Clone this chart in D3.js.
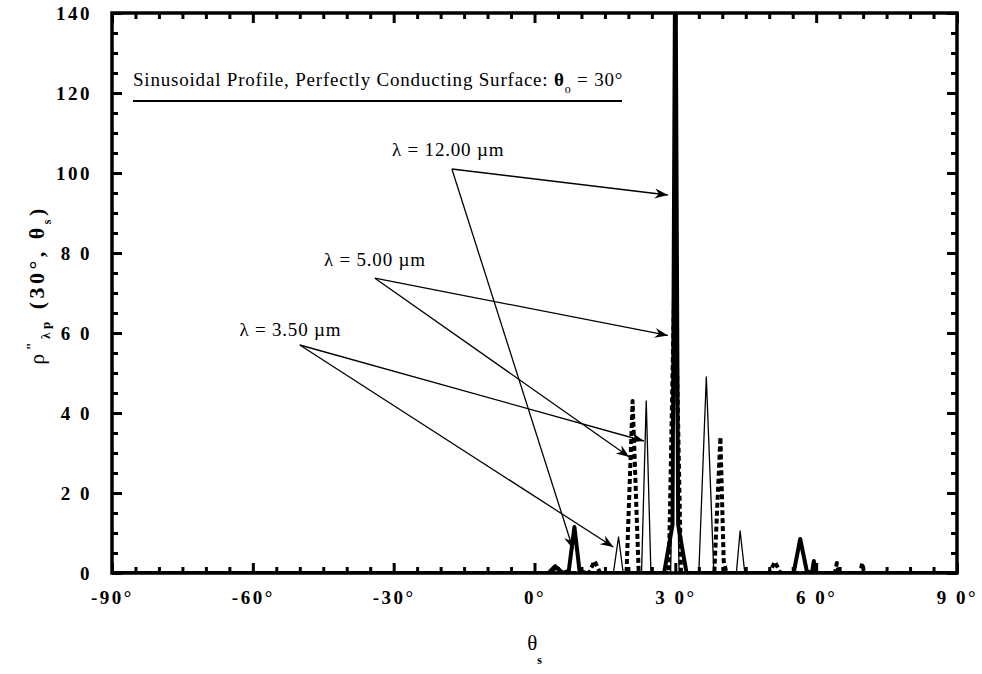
<!DOCTYPE html>
<meta charset="utf-8">
<style>
  body { margin: 0; background: #fff; }
  text { fill: #000; font-family: "Liberation Serif", "Times New Roman", serif; }
  .tick text { font-size: 19px; font-weight: bold; letter-spacing: 2.5px; }
  .axis path.domain { display: none; }
  .axis line { stroke: #000; stroke-width: 3; }
  path.series { fill: none; stroke: #000; stroke-linejoin: round; }
  .arrow { stroke: #000; stroke-width: 1.3; fill: none; }
  .callout { font-size: 19px; letter-spacing: 0.8px; }
</style>
<body>
<script src="https://cdnjs.cloudflare.com/ajax/libs/d3/7.8.5/d3.min.js"></script>
<script>

// scattering angle (deg) and bidirectional reflectance, one pair of arrays per wavelength
var theta12 = [-90, 3, 4.4, 6, 7.3, 8.5, 9.6, 11, 27.6, 29.4, 30, 30.6, 32.4, 55.2, 56.6, 58, 59.1, 59.5, 60, 90];
var rho12   = [0, 0, 1.7, 0, 0.5, 11.5, 0.5, 0, 0, 12, 165, 12, 0, 0, 8.5, 0.5, 0, 3, 0, 0];

var theta5 = [-90, 3.4, 4.6, 5.8, 11.6, 12.8, 14, 19.6, 20.9, 22.2, 28.6, 29.9, 31.2, 38.3, 39.6, 40.3, 40.9, 50, 51.2, 52.4, 64, 64.4, 64.8, 69.4, 69.8, 70.2, 90];
var rho5   = [0, 0, 1.5, 0, 0, 3, 0, 0, 43, 0, 0, 80, 0, 0, 34, 3, 0, 0, 2.8, 0, 0, 2.5, 0, 0, 2.5, 0, 0];

var theta35 = [-90, 16.8, 17.9, 18.9, 22.8, 23.8, 24.8, 29, 29.9, 30.8, 35, 36.6, 38.2, 43, 43.8, 44.8, 90];
var rho35   = [0, 0, 9, 0, 0, 43, 0, 0, 60, 0, 0, 49, 0, 0, 10.5, 0, 0];

var series = [
  {name: "12.00", theta: theta12, rho: rho12, width: 4, dash: null},
  {name: "5.00", theta: theta5, rho: rho5, width: 4, dash: "5,3"},
  {name: "3.50", theta: theta35, rho: rho35, width: 1.3, dash: null}
];

var xTicks = [-90, -60, -30, 0, 30, 60, 90];
var xTickLabels = ["-90°", "-60°", "-30°", "0°", "3 0°", "6 0°", "9 0°"];
var yTicks = [0, 20, 40, 60, 80, 100, 120, 140];
var yTickLabels = ["0", "2 0", "4 0", "6 0", "8 0", "100", "120", "140"];

// callouts: label centre, arrow tail and the two points they point at (theta, rho)
var callLabels = ["λ = 12.00 µm", "λ = 5.00 µm", "λ = 3.50 µm"];
var callLabelAt = [[-18.4, 106], [-34, 78.5], [-52, 61]];
var callTail = [[-17.6, 101], [-34, 73.7], [-50, 57]];
var callHeads = [
  [[28.4, 94.5], [8.2, 6]],
  [[28.4, 59.4], [20.2, 29]],
  [[23.3, 33], [16.8, 6.5]]
];

var W = 982, H = 674;
var m = {left: 112, right: 25, top: 13, bottom: 101};
var pw = W - m.left - m.right, ph = H - m.top - m.bottom;

var x = d3.scaleLinear().domain([-90, 90]).range([0, pw]);
var y = d3.scaleLinear().domain([0, 140]).range([ph, 0]);

var svg = d3.select("body").append("svg")
    .attr("width", W)
    .attr("height", H);

var defs = svg.append("defs");
defs.append("clipPath").attr("id", "plotClip")
  .append("rect").attr("width", pw).attr("height", ph);

defs.append("marker")
    .attr("id", "head")
    .attr("markerUnits", "userSpaceOnUse")
    .attr("viewBox", "-14 -6 16 12")
    .attr("markerWidth", 16).attr("markerHeight", 12)
    .attr("refX", 0).attr("refY", 0)
    .attr("orient", "auto")
  .append("path")
    .attr("d", "M0,0 L-13,-5 L-9,0 L-13,5 Z")
    .attr("fill", "#000");

var g = svg.append("g")
    .attr("transform", "translate(" + m.left + "," + m.top + ")");

var xMinor = d3.range(-90, 91, 5).filter(function(d) { return d % 30; });
var yMinor = d3.range(0, 141, 5).filter(function(d) { return d % 20; });

// bottom axis with labels, ticks point inward
g.append("g").attr("class", "x axis")
    .attr("transform", "translate(0," + ph + ")")
    .call(d3.axisBottom(x).tickValues(xTicks).tickSizeInner(-10).tickSizeOuter(0).tickPadding(18)
      .tickFormat(function(d, i) { return xTickLabels[i]; }));
g.append("g").attr("class", "axis")
    .attr("transform", "translate(0," + ph + ")")
    .call(d3.axisBottom(x).tickValues(xMinor).tickSizeInner(-6).tickSizeOuter(0).tickFormat(""));
g.append("g").attr("class", "axis")
    .call(d3.axisTop(x).tickValues(xTicks).tickSizeInner(-10).tickSizeOuter(0).tickFormat(""));
g.append("g").attr("class", "axis")
    .call(d3.axisTop(x).tickValues(xMinor).tickSizeInner(-6).tickSizeOuter(0).tickFormat(""));

g.append("g").attr("class", "y axis")
    .call(d3.axisLeft(y).tickValues(yTicks).tickSizeInner(-10).tickSizeOuter(0).tickPadding(20)
      .tickFormat(function(d, i) { return yTickLabels[i]; }));
g.append("g").attr("class", "axis")
    .call(d3.axisLeft(y).tickValues(yMinor).tickSizeInner(-6).tickSizeOuter(0).tickFormat(""));
g.append("g").attr("class", "axis")
    .attr("transform", "translate(" + pw + ",0)")
    .call(d3.axisRight(y).tickValues(yTicks).tickSizeInner(-10).tickSizeOuter(0).tickFormat(""));
g.append("g").attr("class", "axis")
    .attr("transform", "translate(" + pw + ",0)")
    .call(d3.axisRight(y).tickValues(yMinor).tickSizeInner(-6).tickSizeOuter(0).tickFormat(""));

// the data
var line = d3.line()
    .x(function(d) { return x(d[0]); })
    .y(function(d) { return y(d[1]); });

g.append("g").attr("clip-path", "url(#plotClip)")
  .selectAll("path.series")
  .data(series)
  .join("path")
    .attr("class", "series")
    .attr("stroke-width", function(d) { return d.width; })
    .attr("stroke-dasharray", function(d) { return d.dash; })
    .attr("d", function(d) { return line(d3.zip(d.theta, d.rho)); });

// frame
g.append("rect")
    .attr("width", pw).attr("height", ph)
    .attr("fill", "none").attr("stroke", "#000").attr("stroke-width", 3.5);

// title with underline
var title = g.append("text")
    .attr("class", "callout")
    .attr("x", 21).attr("y", 73);
title.append("tspan").text("Sinusoidal Profile, Perfectly Conducting Surface:  ");
title.append("tspan").style("font-weight", "bold").text("θ");
title.append("tspan").attr("dy", 7).style("font-size", "12px").text("o");
title.append("tspan").attr("dy", -7).text(" = 30°");
g.append("line")
    .attr("x1", 21).attr("x2", 510)
    .attr("y1", 88).attr("y2", 88)
    .attr("stroke", "#000").attr("stroke-width", 2.2);

// callouts
callLabels.forEach(function(t, i) {
  g.append("text")
      .attr("class", "callout")
      .attr("x", x(callLabelAt[i][0]))
      .attr("y", y(callLabelAt[i][1]))
      .attr("dy", "0.35em")
      .attr("text-anchor", "middle")
      .text(t);
  callHeads[i].forEach(function(h) {
    g.append("line")
        .attr("class", "arrow")
        .attr("x1", x(callTail[i][0])).attr("y1", y(callTail[i][1]))
        .attr("x2", x(h[0])).attr("y2", y(h[1]))
        .attr("marker-end", "url(#head)");
  });
});

// axis titles
var xt = svg.append("text")
    .attr("x", m.left + x(0))
    .attr("y", 650)
    .attr("text-anchor", "middle")
    .style("font-size", "21px");
xt.append("tspan").text("θ");
xt.append("tspan").attr("dy", 14).style("font-size", "12px").style("font-weight", "bold").text("s");

var yt = svg.append("text")
    .attr("transform", "translate(44," + (m.top + ph / 2 - 8) + ") rotate(-90)")
    .attr("text-anchor", "middle")
    .style("font-size", "22px")
    .style("letter-spacing", "3.5px");
yt.append("tspan").text("ρ");
yt.append("tspan").attr("dy", -7).style("font-size", "14px").style("font-weight", "bold").text("\"");
yt.append("tspan").attr("dy", 13).style("font-size", "13px").style("font-weight", "bold").text("λp");
yt.append("tspan").attr("dy", -6).style("font-weight", "bold").text(" (30°, θ");
yt.append("tspan").attr("dy", 7).style("font-size", "12px").style("font-weight", "bold").text("s");
yt.append("tspan").attr("dy", -7).style("font-weight", "bold").text(")");

</script>
